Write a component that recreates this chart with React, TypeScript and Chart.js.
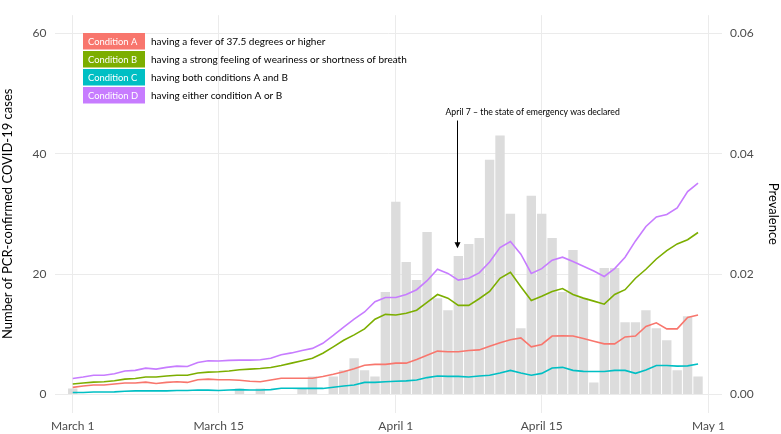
import { useEffect, useRef } from "react";
import { Chart, registerables } from "chart.js";
Chart.register(...registerables);

const dates = [
  "2020-03-01","2020-03-02","2020-03-03","2020-03-04","2020-03-05","2020-03-06","2020-03-07","2020-03-08","2020-03-09","2020-03-10",
  "2020-03-11","2020-03-12","2020-03-13","2020-03-14","2020-03-15","2020-03-16","2020-03-17","2020-03-18","2020-03-19","2020-03-20",
  "2020-03-21","2020-03-22","2020-03-23","2020-03-24","2020-03-25","2020-03-26","2020-03-27","2020-03-28","2020-03-29","2020-03-30",
  "2020-03-31","2020-04-01","2020-04-02","2020-04-03","2020-04-04","2020-04-05","2020-04-06","2020-04-07","2020-04-08","2020-04-09",
  "2020-04-10","2020-04-11","2020-04-12","2020-04-13","2020-04-14","2020-04-15","2020-04-16","2020-04-17","2020-04-18","2020-04-19",
  "2020-04-20","2020-04-21","2020-04-22","2020-04-23","2020-04-24","2020-04-25","2020-04-26","2020-04-27","2020-04-28","2020-04-29",
  "2020-04-30",
];

const cases = [
  1, 0, 0, 0, 0, 0, 0, 0, 0, 0,
  0, 0, 0, 0, 0, 0, 1, 0, 1, 0,
  0, 0, 1, 3, 0, 3, 4, 6, 4, 3,
  17, 32, 22, 19, 27, 16, 14, 23, 25, 26,
  39, 43, 30, 11, 33, 30, 26, 17, 24, 16,
  2, 21, 21, 12, 12, 14, 11, 9, 4, 13,
  3,
];

const prevalenceA = [
  0.00118, 0.0014, 0.00156, 0.00156, 0.00173, 0.0019, 0.0019, 0.00205, 0.00183, 0.002,
  0.0021, 0.002, 0.00243, 0.00254, 0.00243, 0.00243, 0.00237, 0.0022, 0.0021, 0.0024,
  0.0027, 0.0027, 0.0027, 0.0027, 0.00297, 0.00335, 0.00378, 0.00426, 0.00485, 0.005,
  0.005, 0.0052, 0.0052, 0.0058, 0.0065, 0.0072, 0.0071, 0.0071, 0.0073, 0.0074,
  0.008, 0.0086, 0.0091, 0.0094, 0.0079, 0.0083, 0.0097, 0.00976, 0.0097, 0.0093,
  0.00885, 0.0084, 0.0084, 0.00955, 0.0097, 0.0113, 0.0119, 0.0109, 0.0109, 0.0128,
  0.0132,
];

const prevalenceB = [
  0.00173, 0.0019, 0.00205, 0.0021, 0.00227, 0.00254, 0.00264, 0.0029, 0.0029, 0.00307,
  0.00318, 0.00318, 0.00356, 0.0037, 0.00377, 0.0039, 0.0041, 0.0042, 0.0043, 0.00448,
  0.0048, 0.0052, 0.0056, 0.006, 0.00685, 0.0079, 0.009, 0.0099, 0.0109, 0.0125,
  0.0133, 0.0132, 0.0135, 0.014, 0.0153, 0.0166, 0.016, 0.0148, 0.0148, 0.0159,
  0.0171, 0.0193, 0.0203, 0.0179, 0.0156, 0.0163, 0.0171, 0.0176, 0.0166, 0.016,
  0.0155, 0.015, 0.0166, 0.0174, 0.0193, 0.0208, 0.0225, 0.0239, 0.025, 0.0257,
  0.0269,
];

const prevalenceC = [
  0.00032, 0.00032, 0.0004, 0.0004, 0.00043, 0.00054, 0.0006, 0.0006, 0.0006, 0.0006,
  0.00065, 0.00065, 0.00075, 0.00072, 0.00065, 0.00075, 0.0008, 0.00075, 0.00075, 0.0008,
  0.00103, 0.00103, 0.001, 0.001, 0.001, 0.0012, 0.0014, 0.00156, 0.002, 0.002,
  0.0021, 0.0022, 0.00225, 0.0024, 0.0028, 0.00307, 0.003, 0.003, 0.0029, 0.00307,
  0.0032, 0.00356, 0.004, 0.00356, 0.0032, 0.0035, 0.0044, 0.0045, 0.004, 0.00383,
  0.0038, 0.0038, 0.004, 0.004, 0.0035, 0.00405, 0.0048, 0.0048, 0.0047, 0.00475,
  0.00506,
];

const prevalenceD = [
  0.00264, 0.0029, 0.0032, 0.0032, 0.00345, 0.0039, 0.004, 0.00437, 0.0042, 0.0045,
  0.0047, 0.00464, 0.0053, 0.0056, 0.00555, 0.00566, 0.0057, 0.0057, 0.00577, 0.006,
  0.0066, 0.0069, 0.0073, 0.00765, 0.0085, 0.0098, 0.0112, 0.0125, 0.0137, 0.0154,
  0.0161, 0.0161, 0.0166, 0.0174, 0.0189, 0.0208, 0.0201, 0.019, 0.0193, 0.0202,
  0.022, 0.0244, 0.0254, 0.0233, 0.0201, 0.0209, 0.0223, 0.0228, 0.0221, 0.0213,
  0.0205, 0.0196, 0.0209, 0.0228, 0.0255, 0.0279, 0.0295, 0.0299, 0.031, 0.0337,
  0.0351,
];

const conditionNames = ["Condition A", "Condition B", "Condition C", "Condition D"];
const conditionDescriptions = [
  "having a fever of 37.5 degrees or higher",
  "having a strong feeling of weariness or shortness of breath",
  "having both conditions A and B",
  "having either condition A or B",
];
const conditionColors = ["#F8766D", "#7CAE00", "#00BFC4", "#C77CFF"];

const leftTicks = [0, 20, 40, 60];
const rightTicks = [0, 0.02, 0.04, 0.06];
const xTickDates = ["2020-03-01", "2020-03-15", "2020-04-01", "2020-04-15", "2020-05-01"];
const xTickLabels = ["March 1", "March 15", "April 1", "April 15", "May 1"];

const annotationDate = "2020-04-07";
const annotationText = "April 7 \u2013 the state of emergency was declared";
const arrowFrom = 45.5;
const arrowTo = 24.3;

const FONT = "Lato";
const origin = Date.parse("2020-03-01T00:00:00Z");
const toDay = (d: string) => Math.round((Date.parse(d + "T00:00:00Z") - origin) / 86400000);

const overlayPlugin = {
  id: "overlay",
  afterDatasetsDraw(chart: any) {
    const ctx = chart.ctx;
    const xs = chart.scales.x;
    const ys = chart.scales.y;
    ctx.save();
    // annotation arrow
    const ax = Math.round(xs.getPixelForValue(toDay(annotationDate))) - 0.5;
    const yTop = ys.getPixelForValue(arrowFrom);
    const yTip = ys.getPixelForValue(arrowTo);
    ctx.strokeStyle = "#000";
    ctx.lineWidth = 1;
    ctx.beginPath();
    ctx.moveTo(ax, yTop);
    ctx.lineTo(ax, yTip - 4);
    ctx.stroke();
    ctx.fillStyle = "#000";
    ctx.beginPath();
    ctx.moveTo(ax - 3, yTip - 6);
    ctx.lineTo(ax + 3, yTip - 6);
    ctx.lineTo(ax, yTip);
    ctx.closePath();
    ctx.fill();
    ctx.font = `8.7px ${FONT}`;
    ctx.textAlign = "left";
    ctx.textBaseline = "middle";
    ctx.fillText(annotationText, ax - 12, yTop - 8);

    // legend
    const lx = chart.chartArea.left + 28.5;
    for (let i = 0; i < conditionNames.length; i++) {
      const top = 33 + i * 18;
      ctx.fillStyle = conditionColors[i];
      ctx.fillRect(lx, top, 62, 16.5);
      ctx.font = `9.4px ${FONT}`;
      ctx.fillStyle = "#fff";
      ctx.textBaseline = "middle";
      ctx.fillText(conditionNames[i], lx + 5, top + 8.5);
      ctx.font = `10px ${FONT}`;
      ctx.fillStyle = "#000";
      ctx.fillText(conditionDescriptions[i], lx + 68, top + 8.5);
    }
    ctx.restore();
  },
};

export default function App() {
  const ref = useRef<HTMLCanvasElement | null>(null);
  useEffect(() => {
    document.body.style.margin = "0";
    const days = dates.map(toDay);
    const lineSets = [prevalenceA, prevalenceB, prevalenceC, prevalenceD].map((vals, i) => ({
      type: "line" as const,
      label: conditionNames[i],
      data: vals.map((v, j) => ({ x: days[j], y: v })),
      yAxisID: "y1",
      borderColor: conditionColors[i],
      backgroundColor: conditionColors[i],
      borderWidth: 1.6,
      pointRadius: 0,
      tension: 0,
      order: 1,
    }));
    const chart = new Chart(ref.current!, {
      type: "bar",
      data: {
        datasets: [
          {
            type: "bar",
            label: "PCR-confirmed cases",
            data: cases.map((v, j) => ({ x: days[j], y: v })),
            yAxisID: "y",
            backgroundColor: "#dcdcdc",
            borderWidth: 0,
            categoryPercentage: 1,
            barPercentage: 0.9,
            order: 10,
          } as any,
          ...lineSets,
        ],
      },
      options: {
        animation: false,
        responsive: true,
        maintainAspectRatio: false,
        layout: { padding: { top: 4.5, left: 0, right: 0, bottom: 0 } },
        plugins: { legend: { display: false }, tooltip: { enabled: false } },
        scales: {
          x: {
            type: "linear",
            min: -1.75,
            max: 62.3,
            offset: false,
            afterBuildTicks: (s: any) => {
              s.ticks = xTickDates.map((d) => ({ value: toDay(d) }));
            },
            afterFit: (s: any) => {
              s.height = 21.5;
            },
            ticks: {
              autoSkip: false,
              maxRotation: 0,
              padding: 6,
              color: "#4d4d4d",
              font: { family: FONT, size: 12 },
              callback: (v: any) => {
                const idx = xTickDates.findIndex((d) => toDay(d) === v);
                return idx >= 0 ? xTickLabels[idx] : "";
              },
            },
            grid: { color: "#ebebeb", lineWidth: 1, drawTicks: false, offset: false },
            border: { display: false },
          },
          y: {
            type: "linear",
            position: "left",
            min: -3,
            max: 63,
            afterBuildTicks: (s: any) => {
              s.ticks = leftTicks.map((v) => ({ value: v }));
            },
            afterFit: (s: any) => {
              s.width = 54.5;
            },
            ticks: {
              padding: 8,
              color: "#4d4d4d",
              font: { family: FONT, size: 12 },
              callback: (v: any) => String(v),
            },
            grid: { color: "#ebebeb", lineWidth: 1, drawTicks: false },
            border: { display: false },
            title: {
              display: true,
              text: "Number of PCR-confirmed COVID-19 cases",
              color: "#000",
              font: { family: FONT, size: 13 },
              padding: 0,
            },
          },
          y1: {
            type: "linear",
            position: "right",
            min: -0.003,
            max: 0.063,
            afterBuildTicks: (s: any) => {
              s.ticks = rightTicks.map((v) => ({ value: v }));
            },
            afterFit: (s: any) => {
              s.width = 59;
            },
            ticks: {
              padding: 8,
              color: "#4d4d4d",
              font: { family: FONT, size: 12 },
              callback: (v: any) => Number(v).toFixed(2),
            },
            grid: { display: false, drawTicks: false },
            border: { display: false },
            title: {
              display: true,
              text: "Prevalence",
              color: "#000",
              font: { family: FONT, size: 13 },
              padding: 0,
            },
          },
        },
      },
      plugins: [overlayPlugin],
    });
    return () => chart.destroy();
  }, []);
  return (
    <div style={{ position: "relative", width: 781, height: 434 }}>
      <canvas ref={ref} />
    </div>
  );
}
